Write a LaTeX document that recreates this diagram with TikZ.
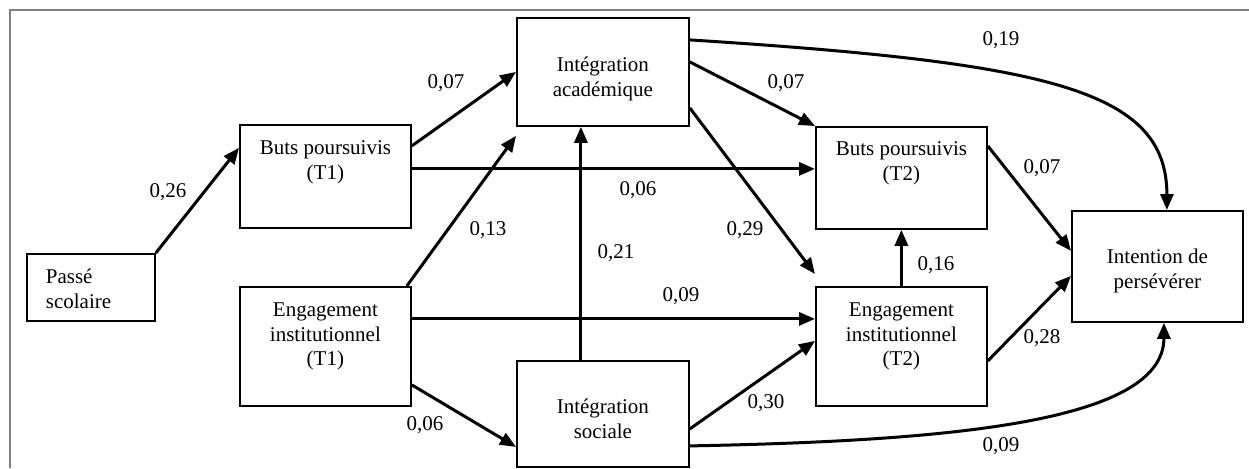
\documentclass[tikz,border=0pt]{standalone}
\usepackage{fontspec}
\setmainfont{Liberation Serif}
\usetikzlibrary{arrows.meta}

\tikzset{every picture/.style={line width=0.75pt}}
\tikzset{
  boite/.style={draw, line width=0.9pt, rectangle, anchor=north west, inner xsep=0pt, inner ysep=0pt, align=center, minimum width=85.5pt, font=\fontsize{10.5}{12.25}\selectfont},
  fleche/.style={line width=1.5pt, -{Triangle[length=8pt,width=6.5pt]}},
  coef/.style={inner sep=0.75pt, font=\fontsize{10.5}{12.25}\selectfont},
}

\begin{document}
\begin{tikzpicture}[x=0.5pt,y=0.5pt,yscale=-1,xscale=1]
\useasboundingbox (0,0) rectangle (1249,468);

%Shape: Frame
\draw [color=gray, line width=1pt] (10,468) -- (10,10) -- (1249,10) ;

%Shape: Rectangle
\node [boite, align=left, minimum width=0pt, text width=45pt, inner xsep=9.5pt, text height=15pt, text depth=18.5pt] (pas) at (26,253) {Passé\\scolaire};
%Shape: Rectangle
\node [boite, text height=27.25pt, text depth=24.25pt] (bt1) at (239,124) {Buts poursuivis\\(T1)};
%Shape: Rectangle
\node [boite, text height=39.5pt, text depth=20pt] (et1) at (239,286) {Engagement\\institutionnel\\(T1)};
%Shape: Rectangle
\node [boite, minimum width=86pt, text height=39.25pt, text depth=14.75pt] (ia) at (516,17) {Intégration\\académique};
%Shape: Rectangle
\node [boite, minimum width=86pt, text height=38.75pt, text depth=14.25pt] (is) at (516,360) {Intégration\\sociale};
%Shape: Rectangle
\node [boite, text height=26.75pt, text depth=24.25pt] (bt2) at (815,126) {Buts poursuivis\\(T2)};
%Shape: Rectangle
\node [boite, text height=39.5pt, text depth=20pt] (et2) at (815,286) {Engagement\\institutionnel\\(T2)};
%Shape: Rectangle
\node [boite, text height=38.75pt, text depth=16.75pt] (ip) at (1071,210) {Intention de\\persévérer};

% Connection
\draw [fleche] (pas.north east) -- ([yshift=-14.25pt]bt1.west) ;
% Connection
\draw [fleche] ([yshift=-15.25pt]bt1.east) -- (ia.west) ;
% Connection
\draw [fleche] ([yshift=-3.75pt]bt1.east) -- ([yshift=-3.75pt]bt1.east -| bt2.west) ;
% Connection
\draw [fleche] ([xshift=-2.5pt]et1.north east) -- ([yshift=4.5pt]ia.south west) ;
% Connection
\draw [fleche] ([yshift=-13.75pt]et1.east) -- ([yshift=-13.75pt]et1.east -| et2.west) ;
% Connection
\draw [fleche] ([yshift=19.25pt]et1.east) -- ([yshift=16.5pt]is.west) ;
% Connection
\draw [fleche] ([xshift=-11pt]is.north) -- ([xshift=-11pt]is.north |- ia.south) ;
% Connection
\draw [fleche] ([yshift=-5pt]ia.east) -- (bt2.north west) ;
% Connection
\draw [fleche] ([yshift=18pt]ia.east) -- ([yshift=-6pt]et2.north west) ;
% Connection
\draw [fleche] ([yshift=-16pt]ia.east) .. controls +(360,23) and +(0,-120) .. ([xshift=4.75pt]ip.north) ;
% Connection
\draw [fleche] ([yshift=16pt]is.east) .. controls +(263,-5) and +(0,99) .. ([xshift=3.25pt]ip.south) ;
% Connection
\draw [fleche] ([yshift=7.5pt]is.east) -- ([yshift=-2.75pt]et2.west) ;
% Connection
\draw [fleche] (et2.north) -- (bt2.south) ;
% Connection
\draw [fleche] ([yshift=-16pt]bt2.east) -- ([yshift=-7.75pt]ip.west) ;
% Connection
\draw [fleche] ([yshift=7.25pt]et2.east) -- ([yshift=4.75pt]ip.west) ;

% Text Node
\node [coef] (c26) at (168,192) {0,26};
% Text Node
\node [coef] (c07a) at (446,83) {0,07};
% Text Node
\node [coef] (c13) at (488,230) {0,13};
% Text Node
\node [coef] (c21) at (616,253) {0,21};
% Text Node
\node [coef] (c06a) at (638,190) {0,06};
% Text Node
\node [coef] (c07b) at (786,83) {0,07};
% Text Node
\node [coef] (c29) at (745,230) {0,29};
% Text Node
\node [coef] (c09a) at (681,296) {0,09};
% Text Node
\node [coef] (c06b) at (425,425) {0,06};
% Text Node
\node [coef] (c30) at (766,403) {0,30};
% Text Node
\node [coef] (c19) at (1001,40) {0,19};
% Text Node
\node [coef] (c07c) at (1042,168) {0,07};
% Text Node
\node [coef] (c16) at (936,265) {0,16};
% Text Node
\node [coef] (c28) at (1042,338) {0,28};
% Text Node
\node [coef] (c09b) at (1001,446) {0,09};

\end{tikzpicture}
\end{document}
